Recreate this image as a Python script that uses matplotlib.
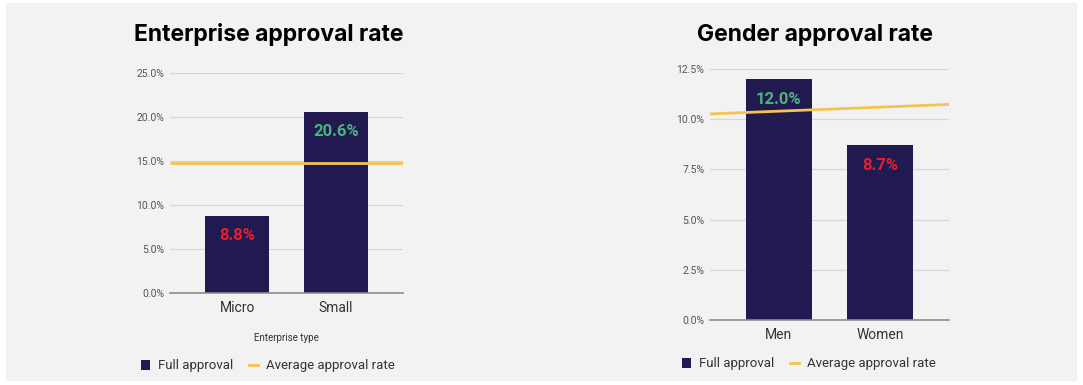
import numpy as np
import matplotlib
matplotlib.use("Agg")
import matplotlib.pyplot as plt
from matplotlib.patches import Rectangle
from matplotlib.lines import Line2D
from matplotlib.ticker import FuncFormatter

plt.rcParams['font.family'] = ['Roboto', 'DejaVu Sans']

# enterprise chart
ent_types = ["Micro", "Small"]
ent_full = [8.8, 20.6]
ent_avg = [14.8, 14.8]
ent_ticks = [0, 5, 10, 15, 20, 25]

# gender chart
genders = ["Men", "Women"]
gen_full = [12.0, 8.7]
gen_avg = [10.4, 10.6]
gen_ticks = [0, 2.5, 5, 7.5, 10, 12.5]

BAR = "#211a50"
AVG = "#f4c453"
GOOD = "#4cb37a"
BAD = "#e3202b"
PANEL = "#f2f2f2"

fig = plt.figure(figsize=(10.83, 3.85), dpi=100, facecolor="white")
fig.patches.append(Rectangle((6 / 1083, 4 / 385), 1071 / 1083, 378 / 385,
                             transform=fig.transFigure, facecolor=PANEL,
                             edgecolor="none", zorder=-10))


def draw(ax, cats, full, avg, ticks, label_colors):
    x = np.arange(len(cats))
    ax.set_facecolor("none")
    ax.set_xlim(-0.68, 1.68)
    ax.set_ylim(ticks[0], ticks[-1])
    ax.bar(x, full, width=0.65, color=BAR, zorder=2)

    # average line stretched over the whole plot width
    k, b = np.polyfit(x, avg, 1)
    xs = np.array(ax.get_xlim())
    ax.plot(xs, k * xs + b, color=AVG, lw=2, zorder=3, solid_capstyle="butt")

    for xi, v, c in zip(x, full, label_colors):
        ax.annotate("%.1f%%" % v, (xi, v), xytext=(0, -9),
                    textcoords="offset points", ha="center", va="top",
                    color=c, fontsize=12, fontweight="bold", zorder=4)

    ax.set_yticks(ticks)
    ax.yaxis.set_major_formatter(FuncFormatter(lambda v, p: "%.1f%%" % v))
    ax.grid(axis="y", color="#d6d6d6", lw=0.9, zorder=0)
    ax.set_axisbelow(True)
    for s in ["top", "right", "left"]:
        ax.spines[s].set_visible(False)
    ax.spines["bottom"].set_color("#8c8c8c")
    ax.spines["bottom"].set_linewidth(1.2)
    ax.spines["bottom"].set_zorder(5)
    ax.tick_params(axis="y", length=0, pad=4, labelsize=7.5, labelcolor="#555555")
    ax.tick_params(axis="x", length=0, pad=6, labelsize=10, labelcolor="#333333")
    ax.set_xticks(x)
    ax.set_xticklabels(cats)


def legend(cx, cy):
    handles = [Rectangle((0, 0), 1, 1, facecolor=BAR),
               Line2D([], [], color=AVG, lw=2)]
    fig.legend(handles, ["Full approval", "Average approval rate"],
               loc="center", bbox_to_anchor=(cx / 1083, 1 - cy / 385),
               ncol=2, frameon=False, fontsize=9.5, handlelength=0.7,
               handleheight=0.7, handletextpad=0.6, columnspacing=1.2,
               labelcolor="#333333")


ax1 = fig.add_axes([170 / 1083, 92 / 385, 233 / 1083, 220 / 385])
draw(ax1, ent_types, ent_full, ent_avg, ent_ticks, [BAD, GOOD])
ax1.set_xlabel("Enterprise type", fontsize=7, color="#333333", labelpad=13)

ax2 = fig.add_axes([710 / 1083, 65 / 385, 239 / 1083, 251 / 385])
draw(ax2, genders, gen_full, gen_avg, gen_ticks, [GOOD, BAD])

fig.text(269 / 1083, 1 - 35 / 385, "Enterprise approval rate", ha="center",
         va="center", fontsize=16.5, fontweight="bold", family="Inter")
fig.text(815 / 1083, 1 - 35 / 385, "Gender approval rate", ha="center",
         va="center", fontsize=16.5, fontweight="bold", family="Inter")

legend(268, 366)
legend(809, 364)

fig.savefig("out.png", dpi=100, facecolor="white")
